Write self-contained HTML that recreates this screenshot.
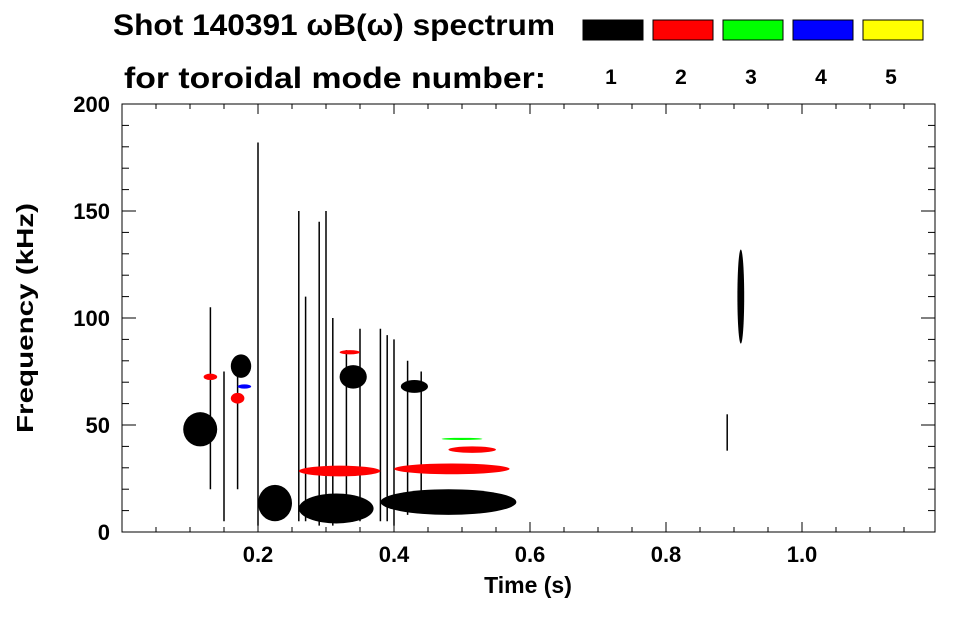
<!DOCTYPE html>
<html><head><meta charset="utf-8"><style>
body{margin:0;background:#fff;font-family:"Liberation Sans",sans-serif;}
svg text{font-family:"Liberation Sans",sans-serif;font-weight:bold;}
</style></head><body>
<svg id="chart" width="963" height="615" viewBox="0 0 963 615" xmlns="http://www.w3.org/2000/svg">
<text x="113" y="35" font-size="30" textLength="442" lengthAdjust="spacingAndGlyphs">Shot 140391 ωB(ω) spectrum</text>
<text x="124" y="88" font-size="30" textLength="422" lengthAdjust="spacingAndGlyphs">for toroidal mode number:</text>
<g id="legend"></g>
<rect x="122" y="104" width="813" height="428" fill="none" stroke="#000" stroke-width="1"/>
<g id="marks"></g>
<g id="axes"></g>
<text x="528" y="593" font-size="23" text-anchor="middle">Time (s)</text>
<text transform="translate(33,318) rotate(-90)" font-size="23" text-anchor="middle" textLength="230" lengthAdjust="spacingAndGlyphs">Frequency (kHz)</text>
</svg>
<script>
const modeColors=["#000000","#ff0000","#00ff00","#0000ff","#ffff00"];
const modeLabels=["1","2","3","4","5"];
const xTicks=[0.2,0.4,0.6,0.8,1.0];
const yTicks=[0,50,100,150,200];
// blobs: [tStart,tEnd,fLow,fHigh,modeIndex]
const blobT0=[0.09,0.16,0.26,0.38,0.32,0.41,0.20,0.905,0.32,0.40,0.48,0.47,0.12,0.16,0.26,0.17];
const blobT1=[0.14,0.19,0.37,0.58,0.36,0.45,0.25,0.915,0.35,0.57,0.55,0.53,0.14,0.18,0.38,0.19];
const blobF0=[40,72,4,8,67,65,5,88,83,27,37,43,71,60,26,67];
const blobF1=[56,83,18,20,78,71,22,132,85,32,40,44,74,65,31,69];
const blobMode=[0,0,0,0,0,0,0,0,1,1,1,2,1,1,1,3];
// vertical streaks
const spikeT=[0.13,0.15,0.17,0.2,0.26,0.27,0.29,0.3,0.31,0.33,0.35,0.38,0.39,0.4,0.42,0.44,0.89];
const spikeTop=[105,75,80,182,150,110,145,150,100,85,95,95,92,90,80,75,55];
const spikeBot=[20,5,20,3,5,5,3,5,3,5,5,5,5,3,8,10,38];
const X=t=>122+t*680, Y=f=>532-f*2.14;
const NS="http://www.w3.org/2000/svg";
function mk(tag,attrs,parent){const e=document.createElementNS(NS,tag);for(const k in attrs)e.setAttribute(k,attrs[k]);parent.appendChild(e);return e;}
const lg=document.getElementById('legend');
modeColors.forEach((c,i)=>{
 const r=mk('rect',{x:583+i*70,y:20,width:60,height:20,fill:c,stroke:'#000'},lg);
 
 
 const t=mk('text',{x:611+i*70,y:84,'font-size':21,'text-anchor':'middle'},lg);
 t.textContent=modeLabels[i];
 
 
});
const mg=document.getElementById('marks');
spikeT.forEach((t,i)=>{
 const l=mk('line',{x1:X(t),x2:X(t),y1:Y(spikeTop[i]),y2:Y(spikeBot[i]),stroke:'#000','stroke-width':1.5},mg);
 
 
});
blobT0.forEach((t0,i)=>{
 const x0=X(t0),x1=X(blobT1[i]),y0=Y(blobF1[i]),y1=Y(blobF0[i]);
 const e=mk('ellipse',{cx:(x0+x1)/2,cy:(y0+y1)/2,rx:(x1-x0)/2,ry:(y1-y0)/2,fill:modeColors[blobMode[i]]},mg);
 
 
});
const ax=document.getElementById('axes');
xTicks.forEach(v=>{
 mk('line',{x1:X(v),x2:X(v),y1:532,y2:522,stroke:'#000'},ax);
 mk('line',{x1:X(v),x2:X(v),y1:104,y2:114,stroke:'#000'},ax);
 const t=mk('text',{x:X(v),y:562,'font-size':22,'text-anchor':'middle'},ax);
 t.textContent=v.toFixed(1);
 
 
});
for(let v=0.05;v<1.2;v+=0.05){mk('line',{x1:X(v),x2:X(v),y1:532,y2:527,stroke:'#000'},ax);mk('line',{x1:X(v),x2:X(v),y1:104,y2:109,stroke:'#000'},ax);}
yTicks.forEach(v=>{
 mk('line',{x1:122,x2:136,y1:Y(v),y2:Y(v),stroke:'#000'},ax);
 mk('line',{x1:935,x2:921,y1:Y(v),y2:Y(v),stroke:'#000'},ax);
 const t=mk('text',{x:110,y:Y(v)+8,'font-size':22,'text-anchor':'end'},ax);
 t.textContent=v;
 
 
});
for(let v=10;v<200;v+=10){mk('line',{x1:122,x2:129,y1:Y(v),y2:Y(v),stroke:'#000'},ax);mk('line',{x1:935,x2:928,y1:Y(v),y2:Y(v),stroke:'#000'},ax);}
</script>
</body></html>
